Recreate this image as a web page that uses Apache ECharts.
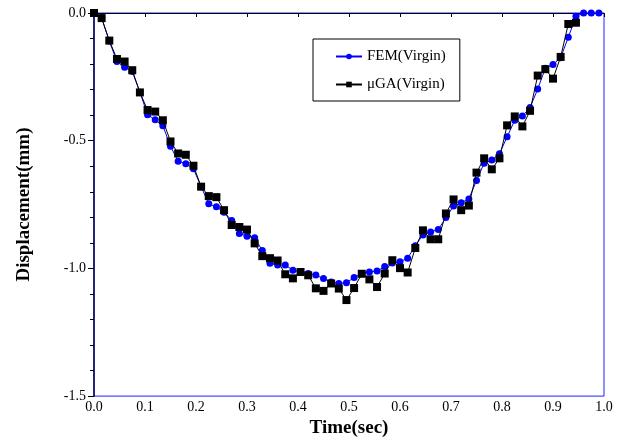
<!DOCTYPE html>
<html>
<head>
<meta charset="utf-8">
<script src="https://cdn.jsdelivr.net/npm/echarts@6/dist/echarts.min.js"></script>
<style>
  html, body { margin: 0; padding: 0; background: #fff; }
  #main { width: 627px; height: 443px; }
</style>
</head>
<body>
<div id="main"></div>
<script>
// time step of both runs (sec)
var dt = 0.015;

// FEM(Virgin) displacement (mm), one value per time step starting at 0
var femValues = [
  0, -0.02, -0.11, -0.19, -0.212, -0.229, -0.31, -0.398, -0.418, -0.441,
  -0.522, -0.58, -0.59, -0.61, -0.68, -0.747, -0.759, -0.78, -0.812, -0.863,
  -0.874, -0.88, -0.93, -0.98, -0.987, -0.987, -1.007, -1.014, -1.02, -1.026,
  -1.04, -1.053, -1.059, -1.056, -1.036, -1.02, -1.014, -1.01, -0.993, -0.979,
  -0.974, -0.96, -0.911, -0.869, -0.857, -0.848, -0.801, -0.756, -0.743, -0.728,
  -0.656, -0.588, -0.576, -0.551, -0.485, -0.42, -0.403, -0.37, -0.298, -0.216,
  -0.202, -0.175, -0.095, -0.013, 0, 0, 0
];

// μGA(Virgin) displacement (mm)
var gaValues = [
  0, -0.02, -0.108, -0.18, -0.19, -0.224, -0.311, -0.38, -0.386, -0.42,
  -0.503, -0.55, -0.555, -0.598, -0.68, -0.717, -0.721, -0.772, -0.83, -0.838,
  -0.848, -0.902, -0.952, -0.96, -0.969, -1.023, -1.039, -1.014, -1.027, -1.078,
  -1.088, -1.059, -1.079, -1.124, -1.077, -1.021, -1.043, -1.073, -1.02, -0.968,
  -0.999, -1.016, -0.92, -0.851, -0.886, -0.886, -0.785, -0.73, -0.772, -0.754,
  -0.625, -0.569, -0.612, -0.569, -0.44, -0.405, -0.444, -0.383, -0.245, -0.22,
  -0.257, -0.172, -0.043, -0.038
];

var seriesNames = ['FEM(Virgin)', '\u03bcGA(Virgin)'];

function toPoints(vals) {
  return vals.map(function (v, i) { return [+(i * dt).toFixed(3), v]; });
}

var font = 'Liberation Serif';
var chart = echarts.init(document.getElementById('main'));

var option = {
  animation: false,
  backgroundColor: '#fff',
  grid: {
    left: 94, right: 23, top: 13, bottom: 46,
    show: true, borderColor: '#2020ff', borderWidth: 1
  },
  legend: {
    orient: 'vertical',
    left: 313, top: 39,
    padding: [10, 14, 9, 22],
    itemGap: 13,
    itemWidth: 26, itemHeight: 7,
    borderColor: '#000', borderWidth: 1,
    textStyle: { fontFamily: font, fontSize: 15, color: '#000' },
    data: seriesNames
  },
  xAxis: {
    type: 'value',
    min: 0, max: 1, interval: 0.1,
    name: 'Time(sec)',
    nameLocation: 'middle',
    nameGap: 21,
    nameTextStyle: { fontFamily: font, fontSize: 19, fontWeight: 'bold', color: '#000' },
    axisLine: { show: true, lineStyle: { color: '#000', width: 1 } },
    axisTick: { show: true, length: 4, lineStyle: { color: '#000' } },
    axisLabel: {
      fontFamily: font, fontSize: 14, color: '#000', margin: 4,
      formatter: function (v) { return v.toFixed(1); }
    },
    splitLine: { show: false }
  },
  yAxis: {
    type: 'value',
    min: -1.5, max: 0, interval: 0.5,
    name: 'Displacement(mm)',
    nameLocation: 'middle',
    nameGap: 60,
    nameTextStyle: { fontFamily: font, fontSize: 19, fontWeight: 'bold', color: '#000' },
    axisLine: { show: true, lineStyle: { color: '#000050', width: 1.5 } },
    axisTick: { show: true, length: 6, lineStyle: { color: '#000' } },
    minorTick: { show: true, splitNumber: 5, length: 4, lineStyle: { color: '#000' } },
    axisLabel: {
      fontFamily: font, fontSize: 14, color: '#000', margin: 8,
      formatter: function (v) { return v.toFixed(1); }
    },
    splitLine: { show: false }
  },
  series: [
    {
      name: seriesNames[0],
      type: 'line',
      data: toPoints(femValues),
      symbol: 'circle',
      symbolSize: 7,
      itemStyle: { color: '#0000ff' },
      lineStyle: { color: '#0000ff', width: 1 },
      z: 2
    },
    {
      name: seriesNames[1],
      type: 'line',
      data: toPoints(gaValues),
      symbol: 'rect',
      symbolSize: 8,
      itemStyle: { color: '#000' },
      lineStyle: { color: '#000', width: 1 },
      z: 3
    }
  ]
};

chart.setOption(option);
</script>
</body>
</html>
